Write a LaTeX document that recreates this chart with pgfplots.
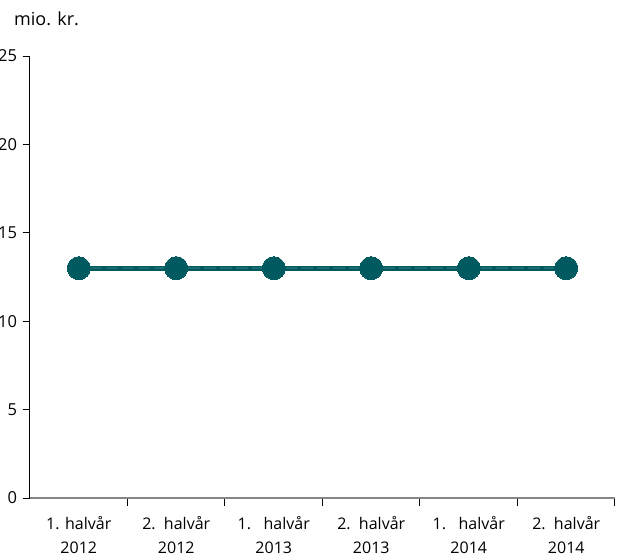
\documentclass[border=0pt]{standalone}
\usepackage{fontspec}
\setmainfont{Open Sans}
\usepackage{pgfplots}
\pgfplotsset{compat=1.18}
\definecolor{teal1}{RGB}{0,90,95}
\definecolor{teal2}{RGB}{25,108,112}
\definecolor{axgray}{RGB}{134,134,134}
\begin{document}
\begin{tikzpicture}[x=1pt,y=1pt]
\begin{axis}[
  at={(0,0)}, anchor=south west,
  scale only axis, width=585pt, height=442pt,
  xmin=-0.5, xmax=5.5, ymin=0, ymax=25,
  axis x line=bottom, axis y line=left,
  axis line style={-},
  x axis line style={axgray, line width=1.2pt},
  y axis line style={black, line width=1pt},
  ytick={0,5,...,25},
  xtick={0.5,1.5,2.5,3.5,4.5,5.5},
  xticklabels={},
  extra x ticks={0,...,5},
  extra x tick labels={{1. halvår\\2012},{2.\ \ halvår\\2012},{1.\ \ \ halvår\\2013},{2.\ \ halvår\\2013},{1.\ \ \ halvår\\2014},{2.\ \ halvår\\2014}},
  extra x tick style={major tick length=0pt, tick label style={align=center, font=\fontsize{16}{24}\selectfont, yshift=-15pt}},
  y tick label style={font=\fontsize{16.5}{18}\selectfont, xshift=-2pt},
  /pgf/number format/assume math mode=true,
  tick align=outside,
  major tick length=7.5pt,
  tick style={black, line width=1pt},
  clip=false,
]
\addplot[teal1, line width=5pt, mark=*, mark size=11.5pt, mark options={solid, fill=teal1, draw=teal1, line width=0pt}] coordinates {(0,13) (1,13) (2,13) (3,13) (4,13) (5,13)};
\addplot[teal2, line width=1.8pt, dash pattern=on 12pt off 4pt, forget plot] coordinates {(0.12,13) (0.88,13)};
\addplot[teal2, line width=1.8pt, dash pattern=on 12pt off 4pt, forget plot] coordinates {(1.12,13) (1.88,13)};
\addplot[teal2, line width=1.8pt, dash pattern=on 12pt off 4pt, forget plot] coordinates {(2.12,13) (2.88,13)};
\addplot[teal2, line width=1.8pt, dash pattern=on 12pt off 4pt, forget plot] coordinates {(3.12,13) (3.88,13)};
\addplot[teal2, line width=1.8pt, dash pattern=on 12pt off 4pt, forget plot] coordinates {(4.12,13) (4.88,13)};
\end{axis}
\node[anchor=west, inner sep=0pt, font=\fontsize{18}{20}\selectfont] at (-16pt,479pt) {mio. kr.};
\pgfresetboundingbox
\path[use as bounding box] (-30pt,-60pt) rectangle (595pt,498pt);
\end{tikzpicture}
\end{document}
